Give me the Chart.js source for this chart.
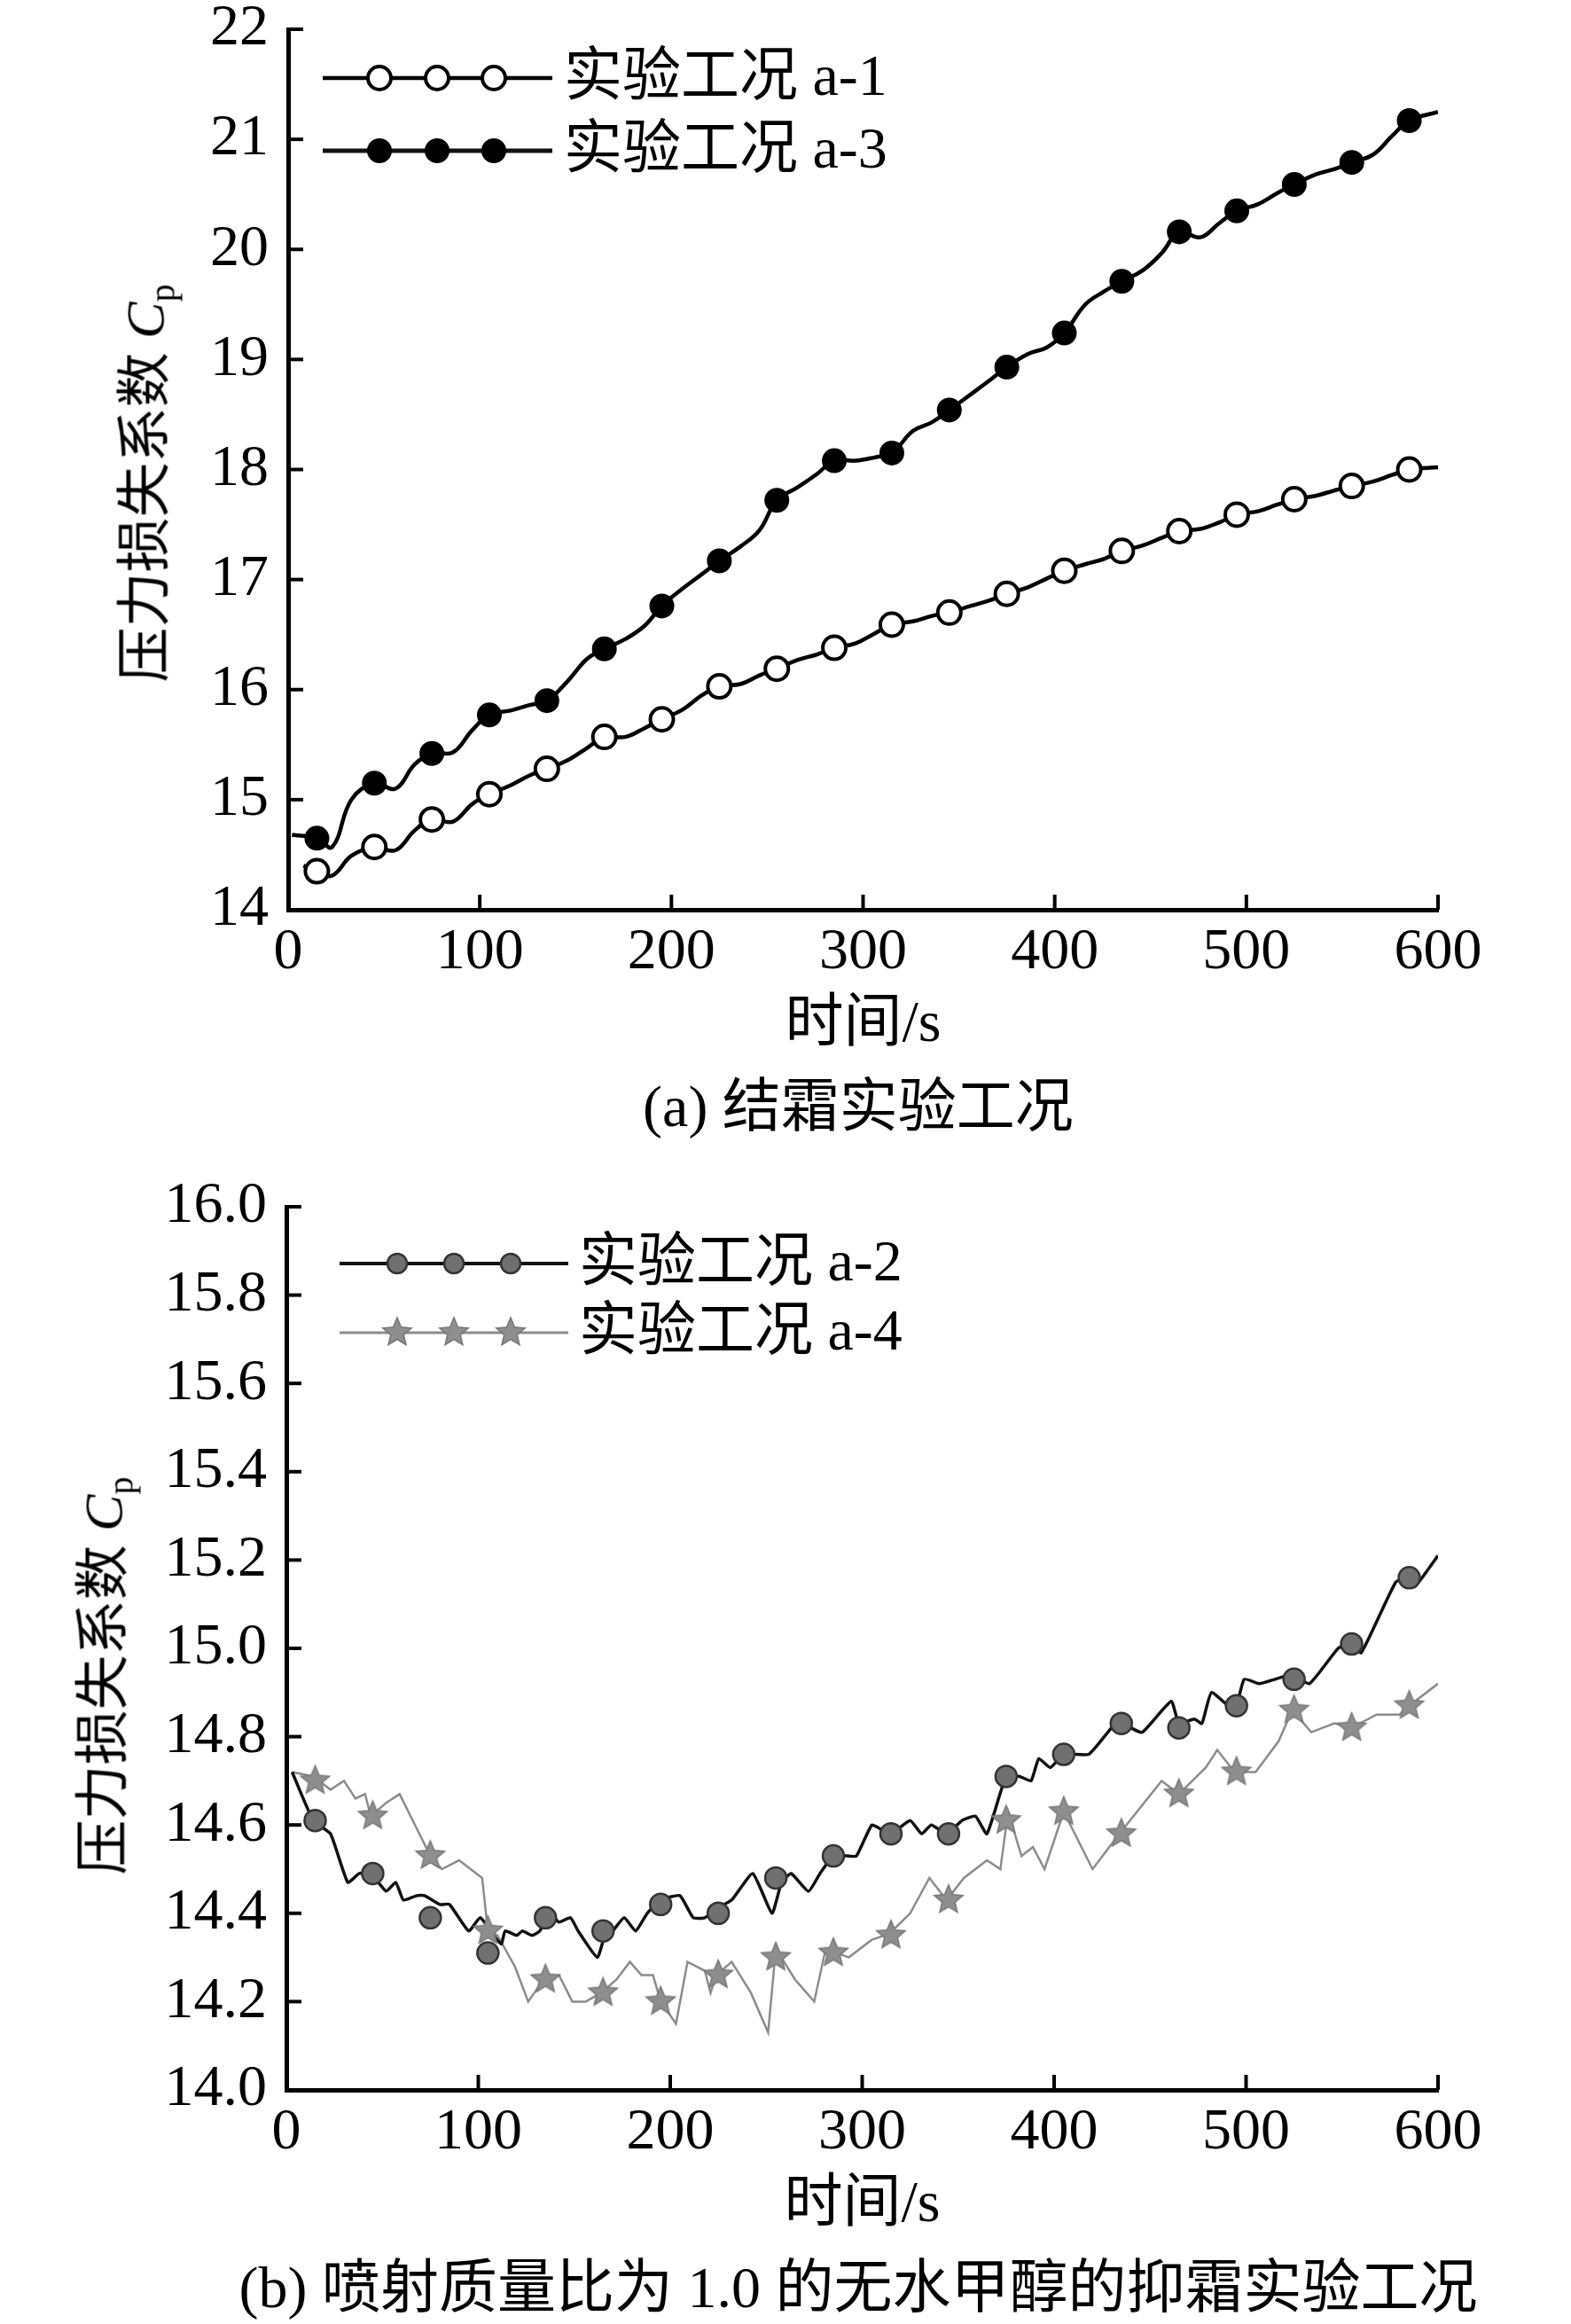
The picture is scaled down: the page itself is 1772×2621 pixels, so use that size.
<!DOCTYPE html>
<html>
<head>
<meta charset="utf-8">
<script src="https://cdn.jsdelivr.net/npm/chart.js@4.4.0/dist/chart.umd.min.js"></script>
<style>
  body { margin: 0; background: #fff; width: 1772px; height: 2621px; position: relative; overflow: hidden;
         font-family: "Liberation Serif", "Noto Sans CJK SC", serif; color: #000; }
  canvas { position: absolute; left: 0; }
  #c1 { top: 0; }
  #c2 { top: 1320px; }
  .cap { position: absolute; transform: translate(-50%, -50%); white-space: nowrap; font-size: 66px; line-height: 1; }
  .ytitle { position: absolute; transform: translate(-50%, -50%) rotate(-90deg); white-space: nowrap; font-size: 62px; line-height: 1; }
  .ytitle i { font-style: italic; }
  .ytitle sub { font-size: 40px; vertical-align: -0.3em; }
</style>
</head>
<body>
<canvas id="c1" width="1772" height="1300"></canvas>
<canvas id="c2" width="1772" height="1301"></canvas>
<div class="ytitle" style="left:168px;top:545px">压力损失系数 <i>C</i><sub>p</sub></div>
<div class="ytitle" style="left:121px;top:1890px">压力损失系数 <i>C</i><sub>p</sub></div>
<div class="cap" style="left:968px;top:1248px">(a) 结霜实验工况</div>
<div class="cap" style="left:968px;top:2580px">(b) 喷射质量比为 1.0 的无水甲醇的抑霜实验工况</div>

<script>
/* ---------- data ---------- */

// marker times (s), shared by all four runs
const markT = [15, 45, 75, 105, 135, 165, 195, 225, 255, 285, 315, 345, 375, 405, 435, 465, 495, 525, 555, 585];

// (a) frosting runs
const a1MarkV = [14.35, 14.57, 14.82, 15.05, 15.28, 15.57, 15.73, 16.03, 16.19, 16.38, 16.59, 16.70, 16.87, 17.08, 17.26, 17.44, 17.59, 17.73, 17.85, 18.00];
const a3MarkV = [14.65, 15.15, 15.42, 15.77, 15.90, 16.37, 16.76, 17.17, 17.72, 18.08, 18.15, 18.54, 18.93, 19.24, 19.71, 20.16, 20.35, 20.59, 20.79, 21.17];

const a1LineT = [8, 15, 23, 33, 45, 56, 66, 75, 86, 96, 105, 116, 126, 135, 146, 156, 165, 176, 186, 195, 206, 216, 225, 236, 246, 255, 266, 276, 285, 296, 306, 315, 326, 336, 345, 356, 366, 375, 386, 396, 405, 416, 426, 435, 446, 456, 465, 476, 486, 495, 506, 516, 525, 536, 546, 555, 566, 576, 585, 600];
const a1LineV = [14.40, 14.35, 14.31, 14.49, 14.57, 14.54, 14.72, 14.82, 14.80, 14.96, 15.05, 15.13, 15.22, 15.28, 15.36, 15.47, 15.57, 15.57, 15.65, 15.73, 15.82, 15.95, 16.03, 16.05, 16.13, 16.19, 16.27, 16.32, 16.38, 16.42, 16.51, 16.59, 16.62, 16.67, 16.70, 16.76, 16.81, 16.87, 16.93, 17.01, 17.08, 17.14, 17.19, 17.26, 17.31, 17.38, 17.44, 17.46, 17.52, 17.59, 17.62, 17.68, 17.73, 17.76, 17.81, 17.85, 17.89, 17.95, 18.00, 18.02];

const a3LineT = [2, 15, 23, 33, 45, 56, 66, 75, 86, 96, 105, 116, 126, 135, 146, 156, 165, 176, 186, 195, 206, 216, 225, 236, 246, 255, 266, 276, 285, 296, 306, 315, 326, 336, 345, 356, 366, 375, 386, 396, 405, 416, 426, 435, 446, 456, 465, 476, 486, 495, 506, 516, 525, 536, 546, 555, 566, 576, 585, 600];
const a3LineV = [14.68, 14.65, 14.57, 15.00, 15.15, 15.10, 15.32, 15.42, 15.43, 15.63, 15.77, 15.81, 15.86, 15.90, 16.08, 16.28, 16.37, 16.46, 16.58, 16.76, 16.92, 17.05, 17.17, 17.30, 17.45, 17.72, 17.84, 17.96, 18.08, 18.08, 18.11, 18.15, 18.35, 18.43, 18.54, 18.68, 18.81, 18.93, 19.05, 19.11, 19.24, 19.50, 19.62, 19.71, 19.81, 19.97, 20.16, 20.11, 20.24, 20.35, 20.41, 20.51, 20.59, 20.68, 20.73, 20.79, 20.86, 21.03, 21.17, 21.25];

// (b) methanol injection runs
const a2MarkV = [14.61, 14.49, 14.39, 14.31, 14.39, 14.36, 14.42, 14.40, 14.48, 14.53, 14.58, 14.58, 14.71, 14.76, 14.83, 14.82, 14.87, 14.93, 15.01, 15.16];
const a4MarkV = [14.70, 14.62, 14.53, 14.36, 14.25, 14.22, 14.20, 14.26, 14.30, 14.31, 14.35, 14.43, 14.61, 14.63, 14.58, 14.67, 14.72, 14.86, 14.82, 14.87];

const a2LineT = [3, 14, 23, 32, 38, 44, 52, 57, 61, 68, 72, 80, 85, 95, 101, 108, 112, 114, 120, 123, 128, 132, 137, 142, 148, 152, 162, 166, 170, 176, 182, 188, 195, 205, 212, 218, 224, 232, 243, 253, 258, 263, 272, 278, 285, 292, 297, 305, 310, 315, 325, 331, 336, 344, 352, 359, 365, 375, 382, 388, 392, 398, 405, 418, 428, 434, 440, 446, 461, 465, 473, 477, 482, 494, 499, 507, 515, 524, 533, 548, 555, 560, 578, 585, 588, 600];
const a2LineV = [14.72, 14.61, 14.58, 14.47, 14.49, 14.49, 14.45, 14.47, 14.43, 14.44, 14.44, 14.42, 14.42, 14.36, 14.39, 14.35, 14.33, 14.36, 14.35, 14.36, 14.35, 14.36, 14.40, 14.38, 14.39, 14.36, 14.30, 14.35, 14.36, 14.39, 14.36, 14.40, 14.43, 14.44, 14.39, 14.39, 14.41, 14.43, 14.49, 14.40, 14.47, 14.49, 14.45, 14.49, 14.53, 14.53, 14.53, 14.60, 14.59, 14.58, 14.61, 14.58, 14.60, 14.58, 14.61, 14.62, 14.58, 14.71, 14.71, 14.70, 14.75, 14.73, 14.76, 14.76, 14.81, 14.84, 14.82, 14.81, 14.88, 14.83, 14.84, 14.83, 14.90, 14.86, 14.93, 14.92, 14.93, 14.94, 14.92, 15.00, 15.01, 14.99, 15.15, 15.16, 15.14, 15.21];

const a4LineT = [3, 14, 23, 30, 36, 41, 44, 52, 59, 67, 75, 81, 90, 96, 102, 105, 110, 119, 126, 134, 142, 149, 156, 164, 172, 179, 185, 191, 195, 203, 209, 218, 221, 224, 232, 242, 251, 255, 265, 275, 281, 287, 293, 305, 312, 318, 325, 335, 344, 353, 365, 372, 376, 383, 389, 395, 405, 420, 434, 445, 456, 465, 479, 485, 494, 505, 517, 524, 534, 546, 555, 568, 580, 585, 600];
const a4LineV = [14.72, 14.71, 14.68, 14.70, 14.66, 14.67, 14.62, 14.65, 14.67, 14.60, 14.53, 14.50, 14.52, 14.50, 14.48, 14.36, 14.35, 14.28, 14.20, 14.25, 14.26, 14.20, 14.20, 14.22, 14.25, 14.29, 14.26, 14.26, 14.20, 14.15, 14.29, 14.27, 14.22, 14.26, 14.29, 14.22, 14.13, 14.32, 14.25, 14.20, 14.32, 14.31, 14.30, 14.34, 14.35, 14.37, 14.40, 14.48, 14.43, 14.48, 14.52, 14.50, 14.63, 14.53, 14.55, 14.50, 14.63, 14.50, 14.58, 14.64, 14.70, 14.67, 14.73, 14.77, 14.72, 14.72, 14.79, 14.86, 14.81, 14.83, 14.82, 14.85, 14.85, 14.87, 14.92];

// axis ticks
const xTicks = [0, 100, 200, 300, 400, 500, 600];
const topYTicks = [14, 15, 16, 17, 18, 19, 20, 21, 22];
const botYTicks = [14.0, 14.2, 14.4, 14.6, 14.8, 15.0, 15.2, 15.4, 15.6, 15.8, 16.0];
const botYLabels = ['14.0', '14.2', '14.4', '14.6', '14.8', '15.0', '15.2', '15.4', '15.6', '15.8', '16.0'];

/* ---------- helpers ---------- */

const FONT = '"Liberation Serif", "Noto Sans CJK SC", serif';

function pts(ts, vs) {
  return ts.map((t, i) => ({x: t, y: vs[i]}));
}

// filled five-point star used for run a-4
function makeStar(r) {
  const c = document.createElement('canvas');
  const s = Math.ceil(r * 2 + 4);
  c.width = s; c.height = s;
  const g = c.getContext('2d');
  g.translate(s / 2, s / 2);
  g.beginPath();
  for (let i = 0; i < 10; i++) {
    const rr = i % 2 ? r * 0.45 : r;
    const a = -Math.PI / 2 + i * Math.PI / 5;
    g.lineTo(rr * Math.cos(a), rr * Math.sin(a));
  }
  g.closePath();
  g.fillStyle = '#8e8e8e';
  g.fill();
  g.strokeStyle = '#777';
  g.lineWidth = 1.5;
  g.stroke();
  return c;
}
const starImg = makeStar(17);

// ticks pointing into the plot
const inwardTicks = {
  id: 'inwardTicks',
  afterDraw(chart) {
    const {ctx, chartArea: a, scales} = chart;
    ctx.save();
    ctx.strokeStyle = '#000';
    ctx.lineWidth = 4;
    scales.x.ticks.forEach(t => {
      const x = scales.x.getPixelForValue(t.value);
      ctx.beginPath(); ctx.moveTo(x, a.bottom); ctx.lineTo(x, a.bottom - 17); ctx.stroke();
    });
    scales.y.ticks.forEach(t => {
      const y = scales.y.getPixelForValue(t.value);
      ctx.beginPath(); ctx.moveTo(a.left, y); ctx.lineTo(a.left + 17, y); ctx.stroke();
    });
    ctx.restore();
  }
};

// legend: line with three markers and a label
const markLegend = {
  id: 'markLegend',
  afterDraw(chart, args, opts) {
    const ctx = chart.ctx;
    ctx.save();
    (opts.items || []).forEach(it => {
      ctx.strokeStyle = it.lineColor;
      ctx.lineWidth = it.lineWidth;
      ctx.beginPath(); ctx.moveTo(it.x0, it.y); ctx.lineTo(it.x1, it.y); ctx.stroke();
      it.xs.forEach(x => {
        if (it.star) {
          ctx.drawImage(starImg, x - starImg.width / 2, it.y - starImg.height / 2);
        } else {
          ctx.beginPath();
          ctx.arc(x, it.y, it.radius, 0, Math.PI * 2);
          ctx.fillStyle = it.bg; ctx.fill();
          ctx.strokeStyle = it.border; ctx.lineWidth = it.bw; ctx.stroke();
        }
      });
      ctx.fillStyle = '#000';
      ctx.font = '66px ' + FONT;
      ctx.textAlign = 'left';
      ctx.textBaseline = 'middle';
      ctx.fillText(it.label, it.textX, it.y + 2);
    });
    ctx.restore();
  }
};

function scaleX(height, titlePad) {
  return {
    type: 'linear', min: 0, max: 600,
    afterBuildTicks: s => { s.ticks = xTicks.map(v => ({value: v})); },
    afterFit: s => { s.height = height; },
    grid: {display: false, drawTicks: false},
    border: {display: true, color: '#000', width: 5},
    ticks: {color: '#000', padding: 16, maxRotation: 0, font: {family: FONT, size: 66, lineHeight: 1}},
    title: {display: true, text: '时间/s', color: '#000', font: {family: FONT, size: 66, lineHeight: 1.2},
            padding: {top: 0, bottom: titlePad}}
  };
}

function scaleY(min, max, width, tickVals, fmt) {
  return {
    type: 'linear', min: min, max: max,
    afterBuildTicks: s => { s.ticks = tickVals.map(v => ({value: v})); },
    afterFit: s => { s.width = width; },
    grid: {display: false, drawTicks: false},
    border: {display: true, color: '#000', width: 5},
    ticks: {color: '#000', padding: 22, font: {family: FONT, size: 66, lineHeight: 0.2}, callback: fmt}
  };
}

const baseOpts = {
  responsive: false,
  animation: false,
  devicePixelRatio: 1,
  plugins: {legend: {display: false}, tooltip: {enabled: false}}
};

/* ---------- (a) ---------- */

new Chart(document.getElementById('c1'), {
  type: 'line',
  data: {
    datasets: [
      {data: pts(markT, a1MarkV), showLine: false, order: 0, pointStyle: 'circle', pointRadius: 13,
       pointBackgroundColor: '#fff', pointBorderColor: '#000', pointBorderWidth: 4},
      {data: pts(markT, a3MarkV), showLine: false, order: 0, pointStyle: 'circle', pointRadius: 13,
       pointBackgroundColor: '#000', pointBorderColor: '#000', pointBorderWidth: 2},
      {data: pts(a1LineT, a1LineV), order: 1, borderColor: '#000', borderWidth: 4.5, pointRadius: 0, tension: 0.4},
      {data: pts(a3LineT, a3LineV), order: 1, borderColor: '#000', borderWidth: 4.5, pointRadius: 0, tension: 0.4}
    ]
  },
  options: Object.assign({}, baseOpts, {
    layout: {padding: {top: 33, right: 150, left: 0, bottom: 0}},
    scales: {
      x: scaleX(274, 104),
      y: scaleY(14, 22, 325, topYTicks, v => String(v))
    },
    plugins: Object.assign({}, baseOpts.plugins, {
      markLegend: {items: [
        {label: '实验工况 a-1', y: 88, x0: 364, x1: 623, xs: [428, 493, 557], textX: 636,
         lineColor: '#000', lineWidth: 4.5, radius: 13, bg: '#fff', border: '#000', bw: 4},
        {label: '实验工况 a-3', y: 170, x0: 364, x1: 623, xs: [428, 493, 557], textX: 636,
         lineColor: '#111', lineWidth: 5, radius: 13, bg: '#000', border: '#000', bw: 2}
      ]}
    })
  }),
  plugins: [inwardTicks, markLegend]
});

/* ---------- (b) ---------- */

new Chart(document.getElementById('c2'), {
  type: 'line',
  data: {
    datasets: [
      {data: pts(markT, a2MarkV), showLine: false, order: 0, pointStyle: 'circle', pointRadius: 12,
       pointBackgroundColor: '#707070', pointBorderColor: '#333', pointBorderWidth: 2.5},
      {data: pts(markT, a4MarkV), showLine: false, order: 0, pointStyle: starImg},
      {data: pts(a2LineT, a2LineV), order: 1, borderColor: '#111', borderWidth: 3.5, pointRadius: 0, tension: 0.15},
      {data: pts(a4LineT, a4LineV), order: 2, borderColor: '#8c8c8c', borderWidth: 2.5, pointRadius: 0, tension: 0}
    ]
  },
  options: Object.assign({}, baseOpts, {
    layout: {padding: {top: 41, right: 150, left: 0, bottom: 0}},
    scales: {
      x: scaleX(264, 94),
      y: scaleY(14, 16, 323, botYTicks, (v, i) => botYLabels[i])
    },
    plugins: Object.assign({}, baseOpts.plugins, {
      markLegend: {items: [
        {label: '实验工况 a-2', y: 105, x0: 383, x1: 641, xs: [448, 512, 576], textX: 653,
         lineColor: '#111', lineWidth: 4, radius: 11, bg: '#707070', border: '#333', bw: 2.5},
        {label: '实验工况 a-4', y: 183, x0: 383, x1: 641, xs: [448, 512, 576], textX: 653,
         lineColor: '#8c8c8c', lineWidth: 3, star: true}
      ]}
    })
  }),
  plugins: [inwardTicks, markLegend]
});
</script>
</body>
</html>
